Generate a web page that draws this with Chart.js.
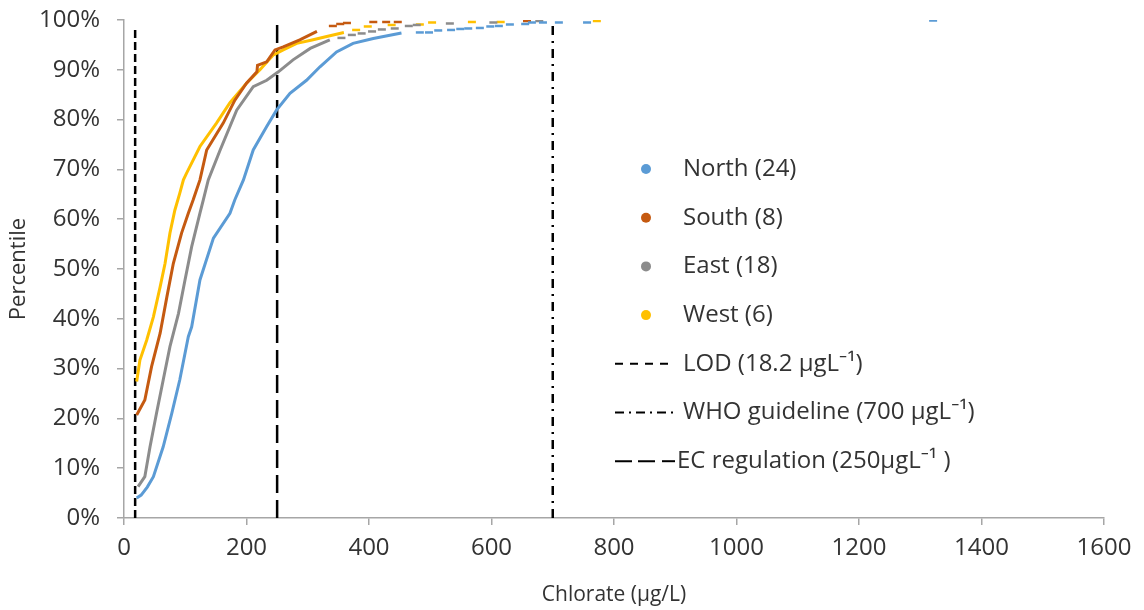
<!DOCTYPE html>
<html>
<head>
<meta charset="utf-8">
<script src="https://cdn.jsdelivr.net/npm/chart.js@4.4.0/dist/chart.umd.min.js"></script>
<style>
  html, body { margin: 0; padding: 0; background: #fff; }
  #wrap { width: 1144px; height: 610px; }
</style>
</head>
<body>
<div id="wrap"><canvas id="chart" width="1144" height="610"></canvas></div>
<script>
// Cumulative chlorate distributions per region: [chlorate µg/L, percentile %]
const regions = ['North', 'South', 'East', 'West'];
const sampleCounts = [24, 8, 18, 6];
const regionColors = ['#5b9bd5', '#c55a11', '#8c8c8c', '#ffc000'];

// dense part of each curve (drawn as a line)
const northCurve = [[20.7, 4], [28, 4.6], [38, 6.2], [48, 8.3], [64, 14.3], [78, 21], [91, 27.7], [105, 36.4],
  [110.5, 38.4], [124, 47.8], [146, 56.2], [173, 61.2], [181, 63.9], [195, 67.9], [211, 73.9], [233, 78.6],
  [249, 81.9], [271, 85.3], [298, 87.9], [320, 90.6], [347, 93.6], [374, 95.3], [407, 96.3], [453, 97.4]];
const southCurve = [[20.7, 20.7], [34, 23.7], [45, 30.4], [59, 37.1], [70, 44.4], [80.5, 51.1], [94, 57.2],
  [105, 61.2], [113, 63.9], [124, 67.9], [135, 73.9], [162, 79.3], [181, 83.9], [200, 87.3], [217, 89.6],
  [218, 90.9], [233, 91.6], [246.5, 94], [260, 94.6], [287, 96], [315, 97.7]];
const eastCurve = [[23, 6.3], [34, 8.3], [42.5, 14.3], [53, 21], [64, 27.7], [75, 34.4], [89, 41.1], [99.6, 47.8],
  [110.5, 54.5], [124, 61.2], [129.5, 63.9], [137.6, 67.9], [157, 73.9], [184, 81.9], [211, 86.6], [233, 87.9],
  [252, 89.6], [276, 92], [304, 94.3], [336, 96]];
const westCurve = [[20.7, 27.4], [26, 31.7], [37, 35.7], [48, 40.4], [59, 46.4], [67, 51.1], [75, 57.2], [83, 61.8],
  [91, 65.2], [97, 67.9], [102, 69.2], [124, 74.6], [151, 79.3], [173, 83.4], [200, 87.3], [222, 90], [244, 93],
  [260, 94], [282, 95.3], [307, 96], [331, 96.7], [359, 97.5]];

// sparse upper tail of each curve (individual markers)
const northTail = [[483, 97.5], [498, 97.5], [513, 97.9], [534, 98], [549, 98.2], [562, 98.3], [581, 98.4],
  [598, 98.7], [612, 98.8], [630, 99.1], [655, 99.2], [666, 99.5], [684, 99.5], [710, 99.5], [756, 99.5], [1321, 99.9]];
const southTail = [[341, 98.8], [353, 99.2], [364, 99.4], [407, 99.6], [428, 99.6], [447, 99.6], [658, 99.8]];
const eastTail = [[355, 96.4], [372, 97], [388, 97.3], [405, 97.7], [421, 98.1], [442, 98.3], [465, 98.8],
  [478, 99], [532, 99.3], [603, 99.5], [678, 99.8]];
const westTail = [[379, 98], [398, 98.7], [437, 99], [483, 99.1], [503, 99.5], [568, 99.6], [615, 99.6], [772, 99.8]];

// reference limits (µg/L)
const lodValue = 18.2;
const ecValue = 250;
const whoValue = 700;
const limitLabels = ['LOD (18.2 \u03bcgL\u207b\u00b9)', 'WHO guideline (700 \u03bcgL\u207b\u00b9)', 'EC regulation (250\u03bcgL\u207b\u00b9 )'];

const FONT = '"Open Sans", "Noto Sans", sans-serif';
const TEXT = '#333333';
const AXIS = '#a6a6a6';

const curves = [northCurve, southCurve, eastCurve, westCurve];
const tails = [northTail, southTail, eastTail, westTail];
const toXY = arr => arr.map(p => ({ x: p[0], y: p[1] }));

const datasets = [];

// vertical limit lines
datasets.push({ data: [{ x: lodValue, y: 0 }, { x: lodValue, y: 98.5 }], borderDash: [8, 4] });
datasets.push({ data: [{ x: ecValue, y: 0 }, { x: ecValue, y: 99.8 }], borderDash: [18, 7] });
datasets.push({ data: [{ x: whoValue, y: 0 }, { x: whoValue, y: 100 }], borderDash: [9, 6, 2, 6] });
datasets.forEach(d => Object.assign(d, {
  showLine: true, borderColor: '#000', borderWidth: 2.5, pointRadius: 0, order: 2
}));

regions.forEach((name, i) => {
  datasets.push({
    label: name,
    data: toXY(curves[i]),
    showLine: true,
    borderColor: regionColors[i],
    borderWidth: 3,
    pointRadius: 0,
    tension: 0,
    order: 1
  });
  datasets.push({
    label: name + ' tail',
    data: toXY(tails[i]),
    showLine: false,
    pointStyle: 'line',
    pointRadius: 4,
    pointBorderWidth: 2.5,
    pointBorderColor: regionColors[i],
    borderColor: regionColors[i],
    order: 1
  });
});

// legend drawn inside the plot, right of the curves
const legendPlugin = {
  id: 'sideLegend',
  afterDraw(chart) {
    const c = chart.ctx;
    const markX = 646, textX = 683, top = 169, step = 48.7;
    c.save();
    c.font = '24px ' + FONT;
    c.fillStyle = TEXT;
    c.textBaseline = 'middle';
    regions.forEach((name, i) => {
      const y = top + i * step;
      c.beginPath();
      c.arc(markX, y, 5, 0, Math.PI * 2);
      c.fillStyle = regionColors[i];
      c.fill();
      c.fillStyle = TEXT;
      c.fillText(name + ' (' + sampleCounts[i] + ')', textX, y);
    });
    const dashes = [[8, 7], [9, 5, 2, 5], [17, 6]];
    limitLabels.forEach((label, j) => {
      const y = top + (4 + j) * step;
      c.strokeStyle = '#000';
      c.lineWidth = 2;
      c.setLineDash(dashes[j]);
      c.beginPath();
      c.moveTo(615, y);
      c.lineTo(j === 2 ? 655 : 673, y);
      c.stroke();
      if (j === 2) {
        c.setLineDash([]);
        c.beginPath();
        c.moveTo(662, y);
        c.lineTo(675, y);
        c.stroke();
      }
      c.setLineDash([]);
      c.fillStyle = TEXT;
      c.fillText(label, j === 2 ? 677 : textX, y);
    });
    c.restore();
  }
};

new Chart(document.getElementById('chart'), {
  type: 'scatter',
  data: { datasets },
  options: {
    responsive: false,
    animation: false,
    layout: { padding: { top: 20, right: 40, bottom: 0, left: 0 } },
    plugins: { legend: { display: false }, tooltip: { enabled: false } },
    scales: {
      x: {
        type: 'linear',
        min: 0,
        max: 1600,
        afterFit: s => { s.height = 92; },
        ticks: { stepSize: 200, color: TEXT, font: { family: FONT, size: 24 }, padding: 9, maxRotation: 0, callback: v => String(v) },
        grid: { display: true, drawOnChartArea: false, drawTicks: true, tickLength: 7, color: AXIS, lineWidth: 1.5 },
        border: { display: true, color: AXIS, width: 1.5 },
        title: { display: true, text: 'Chlorate (\u03bcg/L)', color: TEXT, font: { family: FONT, size: 21 }, padding: { top: 4, bottom: 2 } }
      },
      y: {
        min: 0,
        max: 100,
        // fixed axis width; drop the label padding so the plot starts at the layout padding
        afterFit: s => { s.width = 124; s.paddingTop = 0; s.paddingBottom = 0; },
        ticks: { stepSize: 10, color: TEXT, font: { family: FONT, size: 24 }, padding: 17, callback: v => v + '%' },
        grid: { display: true, drawOnChartArea: false, drawTicks: true, tickLength: 7, color: AXIS, lineWidth: 1.5 },
        border: { display: true, color: AXIS, width: 1.5 },
        title: { display: true, text: 'Percentile', color: TEXT, font: { family: FONT, size: 22 }, padding: { top: 6, bottom: 0 } }
      }
    }
  },
  plugins: [legendPlugin]
});
</script>
</body>
</html>
